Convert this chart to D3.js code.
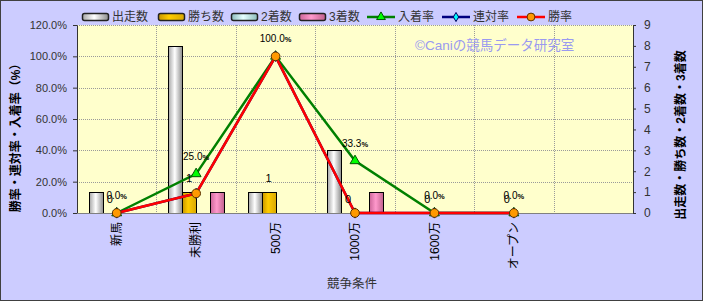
<!DOCTYPE html>
<html>
<head>
<meta charset="utf-8">
<script src="https://cdnjs.cloudflare.com/ajax/libs/d3/7.8.5/d3.min.js"></script>
<style>
  body { margin: 0; background: #fff; }
  svg { display: block; font-family: "Liberation Sans", "Noto Sans CJK JP", sans-serif; }
</style>
</head>
<body>
<script>
// chart values
var categories = ["新馬", "未勝利", "500万", "1000万", "1600万", "オープン", ""];
var starts  = [1, 8, 1, 3, 0, 0];   // 出走数
var wins    = [0, 1, 1, 0, 0, 0];   // 勝ち数
var seconds = [0, 0, 0, 0, 0, 0];   // 2着数
var thirds  = [0, 1, 0, 1, 0, 0];   // 3着数
var placeRate   = [0, 25, 100, 33.3, 0, 0];  // 入着率
var rentaiRate  = [0, 12.5, 100, 0, 0, 0];   // 連対率
var winRate     = [0, 12.5, 100, 0, 0, 0];   // 勝率
var leftTicks  = [0, 20, 40, 60, 80, 100, 120];
var rightTicks = [0, 1, 2, 3, 4, 5, 6, 7, 8, 9];

var width = 703, height = 301;
var plotLeft = 77, plotRight = 633, plotTop = 25, plotBottom = 213;

var svg = d3.select("body").append("svg")
    .attr("width", width)
    .attr("height", height);

var defs = svg.append("defs");
function grad(id, stops){
    var g = defs.append("linearGradient").attr("id", id)
        .attr("x1", "0%").attr("x2", "100%").attr("y1", "0%").attr("y2", "0%");
    stops.forEach(function(s){
        g.append("stop").attr("offset", s[0]).attr("stop-color", s[1]);
    });
}
grad("gStart", [["0%", "#a8a8a8"], ["45%", "#ffffff"], ["100%", "#8c8c8c"]]);
grad("gWin",   [["0%", "#c89600"], ["40%", "#ffcc00"], ["100%", "#d9a800"]]);
grad("gSec",   [["0%", "#8cbcbc"], ["45%", "#e6ffff"], ["100%", "#8cbcbc"]]);
grad("gThird", [["0%", "#cc6699"], ["45%", "#ff99cc"], ["100%", "#c0608c"]]);

// background
svg.append("rect")
    .attr("x", 0.5).attr("y", 0.5)
    .attr("width", width - 1).attr("height", height - 1)
    .style("fill", "#ccccff")
    .style("stroke", "#404040");

svg.append("rect")
    .attr("x", plotLeft).attr("y", plotTop)
    .attr("width", plotRight - plotLeft).attr("height", plotBottom - plotTop)
    .style("fill", "#ffffcc");

var x = d3.scaleBand()
    .domain(d3.range(categories.length))
    .range([plotLeft, plotRight]);
var series = ["start", "win", "sec", "third"];
var xs = d3.scaleBand().domain(series).range([-28, 28]);
var yL = d3.scaleLinear().domain([0, 120]).range([plotBottom, plotTop]);
var yR = d3.scaleLinear().domain([0, 9]).range([plotBottom, plotTop]);

function cx(i){ return x(i) + x.bandwidth() / 2; }

// gridlines
var grid = svg.append("g");
grid.selectAll("line.h")
        .data(leftTicks.slice(1))
    .enter().append("line")
        .attr("x1", plotLeft).attr("x2", plotRight)
        .attr("y1", function(d){ return Math.round(yL(d)) + 0.5; })
        .attr("y2", function(d){ return Math.round(yL(d)) + 0.5; })
        .style("stroke", "#9a9a9a")
        .style("stroke-dasharray", "1,1");
grid.selectAll("line.v")
        .data(d3.range(1, categories.length))
    .enter().append("line")
        .attr("x1", function(d){ return Math.round(x(d)) + 0.5; })
        .attr("x2", function(d){ return Math.round(x(d)) + 0.5; })
        .attr("y1", plotTop).attr("y2", plotBottom)
        .style("stroke", "#9a9a9a")
        .style("stroke-dasharray", "1,1");

// watermark
svg.append("text")
    .attr("x", 415).attr("y", 50)
    .text("©Caniの競馬データ研究室")
    .style("font-size", "13.5px")
    .style("fill", "#9a9af0");

// bars
var barData = [];
[starts, wins, seconds, thirds].forEach(function(arr, s){
    arr.forEach(function(v, i){
        barData.push({s: series[s], i: i, v: v});
    });
});
var fills = {start: "url(#gStart)", win: "url(#gWin)", sec: "url(#gSec)", third: "url(#gThird)"};
svg.append("g").selectAll("rect")
        .data(barData.filter(function(d){ return d.v > 0; }))
    .enter().append("rect")
        .attr("x", function(d){ return Math.round(cx(d.i) + xs(d.s)) + 0.5; })
        .attr("y", function(d){ return Math.round(yR(d.v)) + 0.5; })
        .attr("width", xs.bandwidth())
        .attr("height", function(d){ return plotBottom - Math.round(yR(d.v)); })
        .style("fill", function(d){ return fills[d.s]; })
        .style("stroke", "#000")
        .style("stroke-width", 1);

// axes
var axL = svg.append("g")
    .attr("transform", "translate(" + plotLeft + ",0)")
    .call(d3.axisLeft(yL).tickValues(leftTicks)
        .tickFormat(function(d){ return d.toFixed(1) + "%"; })
        .tickSizeInner(4).tickSizeOuter(0).tickPadding(6));
var axR = svg.append("g")
    .attr("transform", "translate(" + plotRight + ",0)")
    .call(d3.axisRight(yR).tickValues(rightTicks)
        .tickSizeInner(3).tickSizeOuter(0).tickPadding(8));
[axL, axR].forEach(function(a){
    a.select(".domain").style("stroke", "#333");
    a.selectAll(".tick line").style("stroke", "#333");
    a.selectAll("text")
        .style("font-family", "Liberation Sans, sans-serif")
        .style("fill", "#333");
});
axL.selectAll("text").style("font-size", "11px");
axR.selectAll("text").style("font-size", "12px");

svg.append("line")
    .attr("x1", plotLeft).attr("x2", plotRight)
    .attr("y1", plotBottom + 0.5).attr("y2", plotBottom + 0.5)
    .style("stroke", "#808080");

// category labels
svg.append("g").selectAll("text")
        .data(categories)
    .enter().append("text")
        .attr("transform", function(d, i){
            return "translate(" + cx(i) + "," + (plotBottom + 9) + ") rotate(-90)";
        })
        .attr("dy", "0.35em")
        .style("text-anchor", "end")
        .style("font-size", "12px")
        .style("fill", "#000")
        .text(function(d){ return d; });

// lines
var lineSeries = [
    {name: "入着率", values: placeRate,  color: "#008000", marker: "triangle", fill: "#00ff00", mstroke: "#005500"},
    {name: "連対率", values: rentaiRate, color: "#000080", marker: "diamond",  fill: "#00ffff", mstroke: "#000060"},
    {name: "勝率",   values: winRate,    color: "#ff0000", marker: "circle",   fill: "#ff9900", mstroke: "#5a3000"}
];
var line = d3.line()
    .x(function(d, i){ return cx(i); })
    .y(function(d){ return yL(d); });
var symbols = {triangle: d3.symbolTriangle, diamond: d3.symbolDiamond, circle: d3.symbolCircle};
var symSize = {triangle: 42, diamond: 30, circle: 60};

lineSeries.forEach(function(s){
    var g = svg.append("g");
    g.append("path")
        .datum(s.values)
        .attr("d", line)
        .style("fill", "none")
        .style("stroke", s.color)
        .style("stroke-width", 2.5);
    g.selectAll("path.m")
            .data(s.values)
        .enter().append("path")
            .attr("transform", function(d, i){
                return "translate(" + cx(i) + "," + yL(d) + ")";
            })
            .attr("d", d3.symbol().type(symbols[s.marker]).size(symSize[s.marker]))
            .style("fill", s.fill)
            .style("stroke", s.mstroke)
            .style("stroke-width", 1);
});

// data labels: 勝ち数
svg.append("g").selectAll("text")
        .data(wins)
    .enter().append("text")
        .attr("x", function(d, i){ return cx(i) + xs("win") + xs.bandwidth() / 2; })
        .attr("y", function(d){ return yR(d) - 10; })
        .style("text-anchor", "middle")
        .style("font-size", "11px")
        .style("fill", "#000")
        .text(function(d){ return d; });

// data labels: 入着率
var pct = svg.append("g").selectAll("text")
        .data(placeRate)
    .enter().append("text")
        .attr("x", function(d, i){ return cx(i); })
        .attr("y", function(d){ return yL(d) - 14; })
        .style("text-anchor", "middle")
        .style("font-size", "10px")
        .style("fill", "#000");
pct.append("tspan").text(function(d){ return d.toFixed(1); });
pct.append("tspan").text("%").style("font-size", "7.5px").style("font-weight", "bold");

// legend
var legend = svg.append("g");
var barLegend = [
    {x: 82,  name: "出走数", fill: "url(#gStart)"},
    {x: 158, name: "勝ち数", fill: "url(#gWin)"},
    {x: 231, name: "2着数",  fill: "url(#gSec)"},
    {x: 299, name: "3着数",  fill: "url(#gThird)"}
];
barLegend.forEach(function(d){
    legend.append("rect")
        .attr("x", d.x + 0.5).attr("y", 13.5)
        .attr("width", 26).attr("height", 7)
        .attr("rx", 2)
        .style("fill", d.fill)
        .style("stroke", "#222")
        .style("stroke-width", 1.5);
    legend.append("text")
        .attr("x", d.x + 30).attr("y", 17)
        .attr("dy", "0.35em")
        .style("font-size", "12px")
        .style("fill", "#333")
        .text(d.name);
});
var lineLegendX = [367, 442, 517];
lineSeries.forEach(function(s, k){
    var lx = lineLegendX[k];
    legend.append("line")
        .attr("x1", lx).attr("x2", lx + 28)
        .attr("y1", 17).attr("y2", 17)
        .style("stroke", s.color)
        .style("stroke-width", 2.5);
    legend.append("path")
        .attr("transform", "translate(" + (lx + 14) + ",17)")
        .attr("d", d3.symbol().type(symbols[s.marker]).size(symSize[s.marker] * 0.8))
        .style("fill", s.fill)
        .style("stroke", s.mstroke);
    legend.append("text")
        .attr("x", lx + 31).attr("y", 17)
        .attr("dy", "0.35em")
        .style("font-size", "12px")
        .style("fill", "#333")
        .text(s.name);
});

// axis titles
svg.append("text")
    .attr("transform", "translate(16,135) rotate(-90)")
    .attr("dy", "0.35em")
    .style("text-anchor", "middle")
    .style("font-size", "12px")
    .style("font-weight", "bold")
    .style("fill", "#000")
    .text("勝率・連対率・入着率（%）");
svg.append("text")
    .attr("transform", "translate(681,135) rotate(-90)")
    .attr("dy", "0.35em")
    .style("text-anchor", "middle")
    .style("font-size", "12px")
    .style("font-weight", "bold")
    .style("fill", "#000")
    .text("出走数・勝ち数・2着数・3着数");
svg.append("text")
    .attr("x", 352).attr("y", 284)
    .attr("dy", "0.35em")
    .style("text-anchor", "middle")
    .style("font-size", "12.5px")
    .style("fill", "#333")
    .text("競争条件");
</script>
</body>
</html>
